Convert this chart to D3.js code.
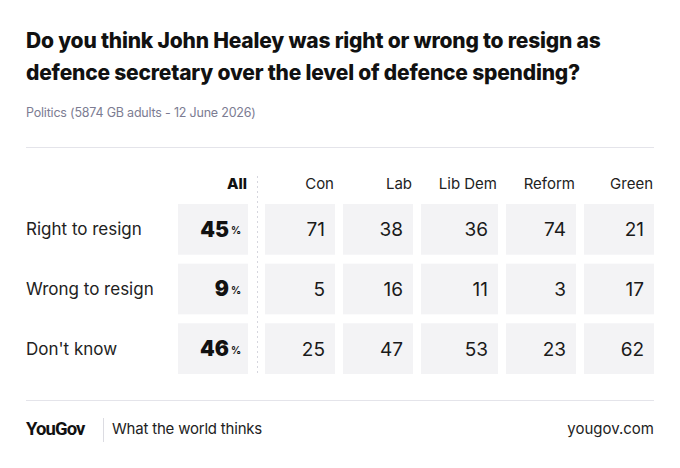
<!DOCTYPE html>
<html>
<head>
<meta charset="utf-8">
<script src="https://cdn.jsdelivr.net/npm/d3@7"></script>
<style>
  body { margin: 0; background: #fff; }
  text { font-family: Inter, "Noto Sans", sans-serif; }
</style>
</head>
<body>
<div id="chart"></div>
<script>
const width = 680;
const height = 468;

const titleLines = [
  "Do you think John Healey was right or wrong to resign as",
  "defence secretary over the level of defence spending?"
];
const subtitle = "Politics (5874 GB adults - 12 June 2026)";

const answers = ["Right to resign", "Wrong to resign", "Don't know"];
const allValues = [45, 9, 46];
const parties = ["Con", "Lab", "Lib Dem", "Reform", "Green"];
const partyValues = [
  [71, 38, 36, 74, 21],
  [5, 16, 11, 3, 17],
  [25, 47, 53, 23, 62]
];

const svg = d3.select("#chart")
  .append("svg")
  .attr("width", width)
  .attr("height", height);

// titulo
svg.append("g")
  .selectAll("text")
  .data(titleLines)
  .join("text")
  .attr("x", 26)
  .attr("y", (d, i) => 48 + i * 32)
  .style("font-weight", 800)
  .style("font-size", "21px")
  .style("letter-spacing", "-0.2px")
  .style("fill", "#111")
  .text((d) => d);

svg.append("text")
  .attr("x", 26)
  .attr("y", 117)
  .style("font-size", "12.5px")
  .style("letter-spacing", "-0.2px")
  .style("fill", "#7c7c92")
  .text(subtitle);

svg.append("line")
  .attr("x1", 26).attr("x2", 654)
  .attr("y1", 147.5).attr("y2", 147.5)
  .attr("stroke", "#e4e4ea");

// filas
const y = d3.scaleBand()
  .domain(answers)
  .range([204, 374])
  .paddingInner(0.15)
  .paddingOuter(0);

// columnas de partidos (Lib Dem un poco mas ancha)
const colWidths = [70, 70, 77, 70, 70];
const colStart = [];
colWidths.reduce((acc, w, i) => { colStart[i] = acc; return acc + w + 8; }, 265);

const x = d3.scaleOrdinal().domain(parties).range(colStart);
const cellW = d3.scaleOrdinal().domain(parties).range(colWidths);

const allX = 178, allW = 70;
const cellFill = "#f3f3f5";

// cabeceras
svg.append("text")
  .attr("x", allX + allW - 1)
  .attr("y", 189)
  .attr("text-anchor", "end")
  .style("font-weight", 800)
  .style("font-size", "15px")
  .style("fill", "#111")
  .text("All");

svg.append("g")
  .selectAll("text")
  .data(parties)
  .join("text")
  .attr("x", (d) => x(d) + cellW(d) - 1)
  .attr("y", 189)
  .attr("text-anchor", "end")
  .style("font-size", "15px")
  .style("fill", "#222")
  .text((d) => d);

// linea punteada
svg.append("line")
  .attr("x1", 257.5).attr("x2", 257.5)
  .attr("y1", 176).attr("y2", y.range()[1])
  .attr("stroke", "#d6d6de")
  .attr("stroke-dasharray", "2,3");

const filas = svg.append("g")
  .selectAll("g")
  .data(answers)
  .join("g")
  .attr("transform", (d) => `translate(0, ${y(d)})`);

filas.append("text")
  .attr("x", 26)
  .attr("y", y.bandwidth() / 2 + 6)
  .style("font-size", "17px")
  .style("fill", "#222")
  .text((d) => d);

filas.append("rect")
  .attr("x", allX)
  .attr("width", allW)
  .attr("height", y.bandwidth())
  .attr("fill", cellFill);

filas.append("text")
  .attr("x", allX + allW - 19)
  .attr("y", y.bandwidth() / 2 + 7.5)
  .attr("text-anchor", "end")
  .style("font-weight", 900)
  .style("font-size", "21px")
  .style("fill", "#111")
  .text((d, i) => allValues[i]);

filas.append("text")
  .attr("x", allX + allW - 17)
  .attr("y", y.bandwidth() / 2 + 5)
  .style("font-weight", 700)
  .style("font-size", "10px")
  .style("fill", "#111")
  .text("%");

filas.each(function (d, i) {
  const g = d3.select(this);
  const celdas = g.selectAll("g.celda")
    .data(parties.map((p, j) => ({ p, v: partyValues[i][j] })))
    .join("g")
    .attr("class", "celda")
    .attr("transform", (c) => `translate(${x(c.p)}, 0)`);

  celdas.append("rect")
    .attr("width", (c) => cellW(c.p))
    .attr("height", y.bandwidth())
    .attr("fill", cellFill);

  celdas.append("text")
    .attr("x", (c) => cellW(c.p) - 10)
    .attr("y", y.bandwidth() / 2 + 7)
    .attr("text-anchor", "end")
    .style("font-size", "19px")
    .style("fill", "#1a1a1a")
    .text((c) => c.v);
});

// pie
svg.append("line")
  .attr("x1", 26).attr("x2", 654)
  .attr("y1", 400.5).attr("y2", 400.5)
  .attr("stroke", "#e4e4ea");

svg.append("text")
  .attr("x", 26)
  .attr("y", 435)
  .style("font-family", "Roboto, sans-serif")
  .style("font-weight", 700)
  .style("font-size", "18.5px")
  .style("letter-spacing", "-0.9px")
  .style("fill", "#111")
  .text("YouGov");

svg.append("line")
  .attr("x1", 103.5).attr("x2", 103.5)
  .attr("y1", 418).attr("y2", 442)
  .attr("stroke", "#dcdce2");

svg.append("text")
  .attr("x", 112)
  .attr("y", 434)
  .style("font-size", "15px")
  .style("letter-spacing", "-0.2px")
  .style("fill", "#222")
  .text("What the world thinks");

svg.append("text")
  .attr("x", 654)
  .attr("y", 434)
  .attr("text-anchor", "end")
  .style("font-size", "15px")
  .style("fill", "#222")
  .text("yougov.com");
</script>
</body>
</html>
